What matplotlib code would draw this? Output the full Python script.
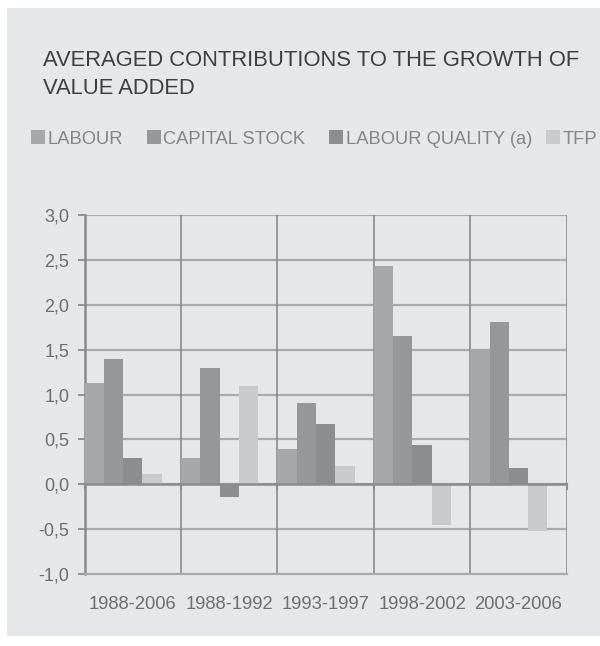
import matplotlib.pyplot as plt
import numpy as np
from matplotlib.patches import Rectangle

# averaged contributions (percentage points) per period
periods = ['1988-2006', '1988-1992', '1993-1997', '1998-2002', '2003-2006']
labour = [1.13, 0.29, 0.39, 2.43, 1.51]
capitalStock = [1.39, 1.30, 0.90, 1.65, 1.81]
labourQuality = [0.29, -0.14, 0.67, 0.44, 0.18]
tfp = [0.11, 1.10, 0.20, -0.45, -0.52]

seriesNames = ['LABOUR', 'CAPITAL STOCK', 'LABOUR QUALITY (a)', 'TFP']
seriesColors = ['#a6a7aa', '#96979a', '#8c8d90', '#c9cacc']
yTicks = [-1.0, -0.5, 0.0, 0.5, 1.0, 1.5, 2.0, 2.5, 3.0]

plt.rcParams['font.family'] = ['Liberation Sans', 'DejaVu Sans']

panelColor = '#e6e7e9'
gridColor = '#a9aaac'
axisColor = '#8a8b8d'
tickTextColor = '#6e6e70'

fig = plt.figure(figsize=(6, 6.46), dpi=100)
fig.patch.set_facecolor('white')
# grey panel behind the whole chart
fig.patches.append(Rectangle((7 / 600, 10 / 646), 1, 628 / 646, transform=fig.transFigure,
                             facecolor=panelColor, edgecolor='none', zorder=-10))

ax = fig.add_axes([84.5 / 600, 72 / 646, 482.2 / 600, 359 / 646])
ax.set_facecolor('none')
ax.set_zorder(1)

nGroups = len(periods)
x = np.arange(nGroups)
barWidth = 0.2
allSeries = [labour, capitalStock, labourQuality, tfp]

handles = []
for k, values in enumerate(allSeries):
    b = ax.bar(x - 0.5 + k * barWidth, values, width=barWidth, align='edge',
               color=seriesColors[k], label=seriesNames[k], zorder=3)
    handles.append(b)

ax.set_xlim(-0.5, nGroups - 0.5)
ax.set_ylim(yTicks[0], yTicks[-1])

# horizontal grid + group separators
for v in yTicks[1:]:
    ax.axhline(v, color=gridColor, lw=1.6, zorder=1)
for bnd in np.arange(nGroups + 1) - 0.5:
    ax.axvline(bnd, color=axisColor, lw=1.2, zorder=1)
    ax.plot([bnd, bnd], [0, -0.055], color=axisColor, lw=1.5, zorder=4, clip_on=False)
ax.axhline(0, color=axisColor, lw=1.8, zorder=4)

for side in ['top', 'right']:
    ax.spines[side].set_visible(False)
ax.spines['left'].set_color(axisColor)
ax.spines['left'].set_linewidth(1.8)
ax.spines['bottom'].set_color(gridColor)
ax.spines['bottom'].set_linewidth(1.6)

ax.set_yticks(yTicks)
ax.set_yticklabels([('%.1f' % v).replace('.', ',') for v in yTicks])
ax.set_xticks(x)
ax.set_xticklabels(periods)
ax.tick_params(axis='y', length=5, width=1.3, color=axisColor, pad=6,
               labelsize=13, labelcolor=tickTextColor)
ax.tick_params(axis='x', length=0, pad=15.5, labelsize=13.2, labelcolor=tickTextColor)

fig.text(43 / 600, 1 - 50 / 646, 'AVERAGED CONTRIBUTIONS TO THE GROWTH OF\nVALUE ADDED',
         fontsize=15.8, color='#3f3f41', va='top', ha='left', linespacing=1.45)

# legend in two pieces: the last entry sits closer to the one before it
legendOpts = dict(frameon=False, fontsize=13.2, labelcolor='#858587',
                  handlelength=0.75, handleheight=0.75, handletextpad=0.15,
                  borderaxespad=0, borderpad=0, loc='center left')
fig.legend(handles[:3], seriesNames[:3], ncol=3, columnspacing=1.3,
           bbox_to_anchor=(31 / 600, 1 - 139 / 646), **legendOpts)
fig.legend(handles[3:], seriesNames[3:], ncol=1,
           bbox_to_anchor=(546 / 600, 1 - 139 / 646), **legendOpts)

plt.savefig('out.png', dpi=100, facecolor=fig.get_facecolor())
